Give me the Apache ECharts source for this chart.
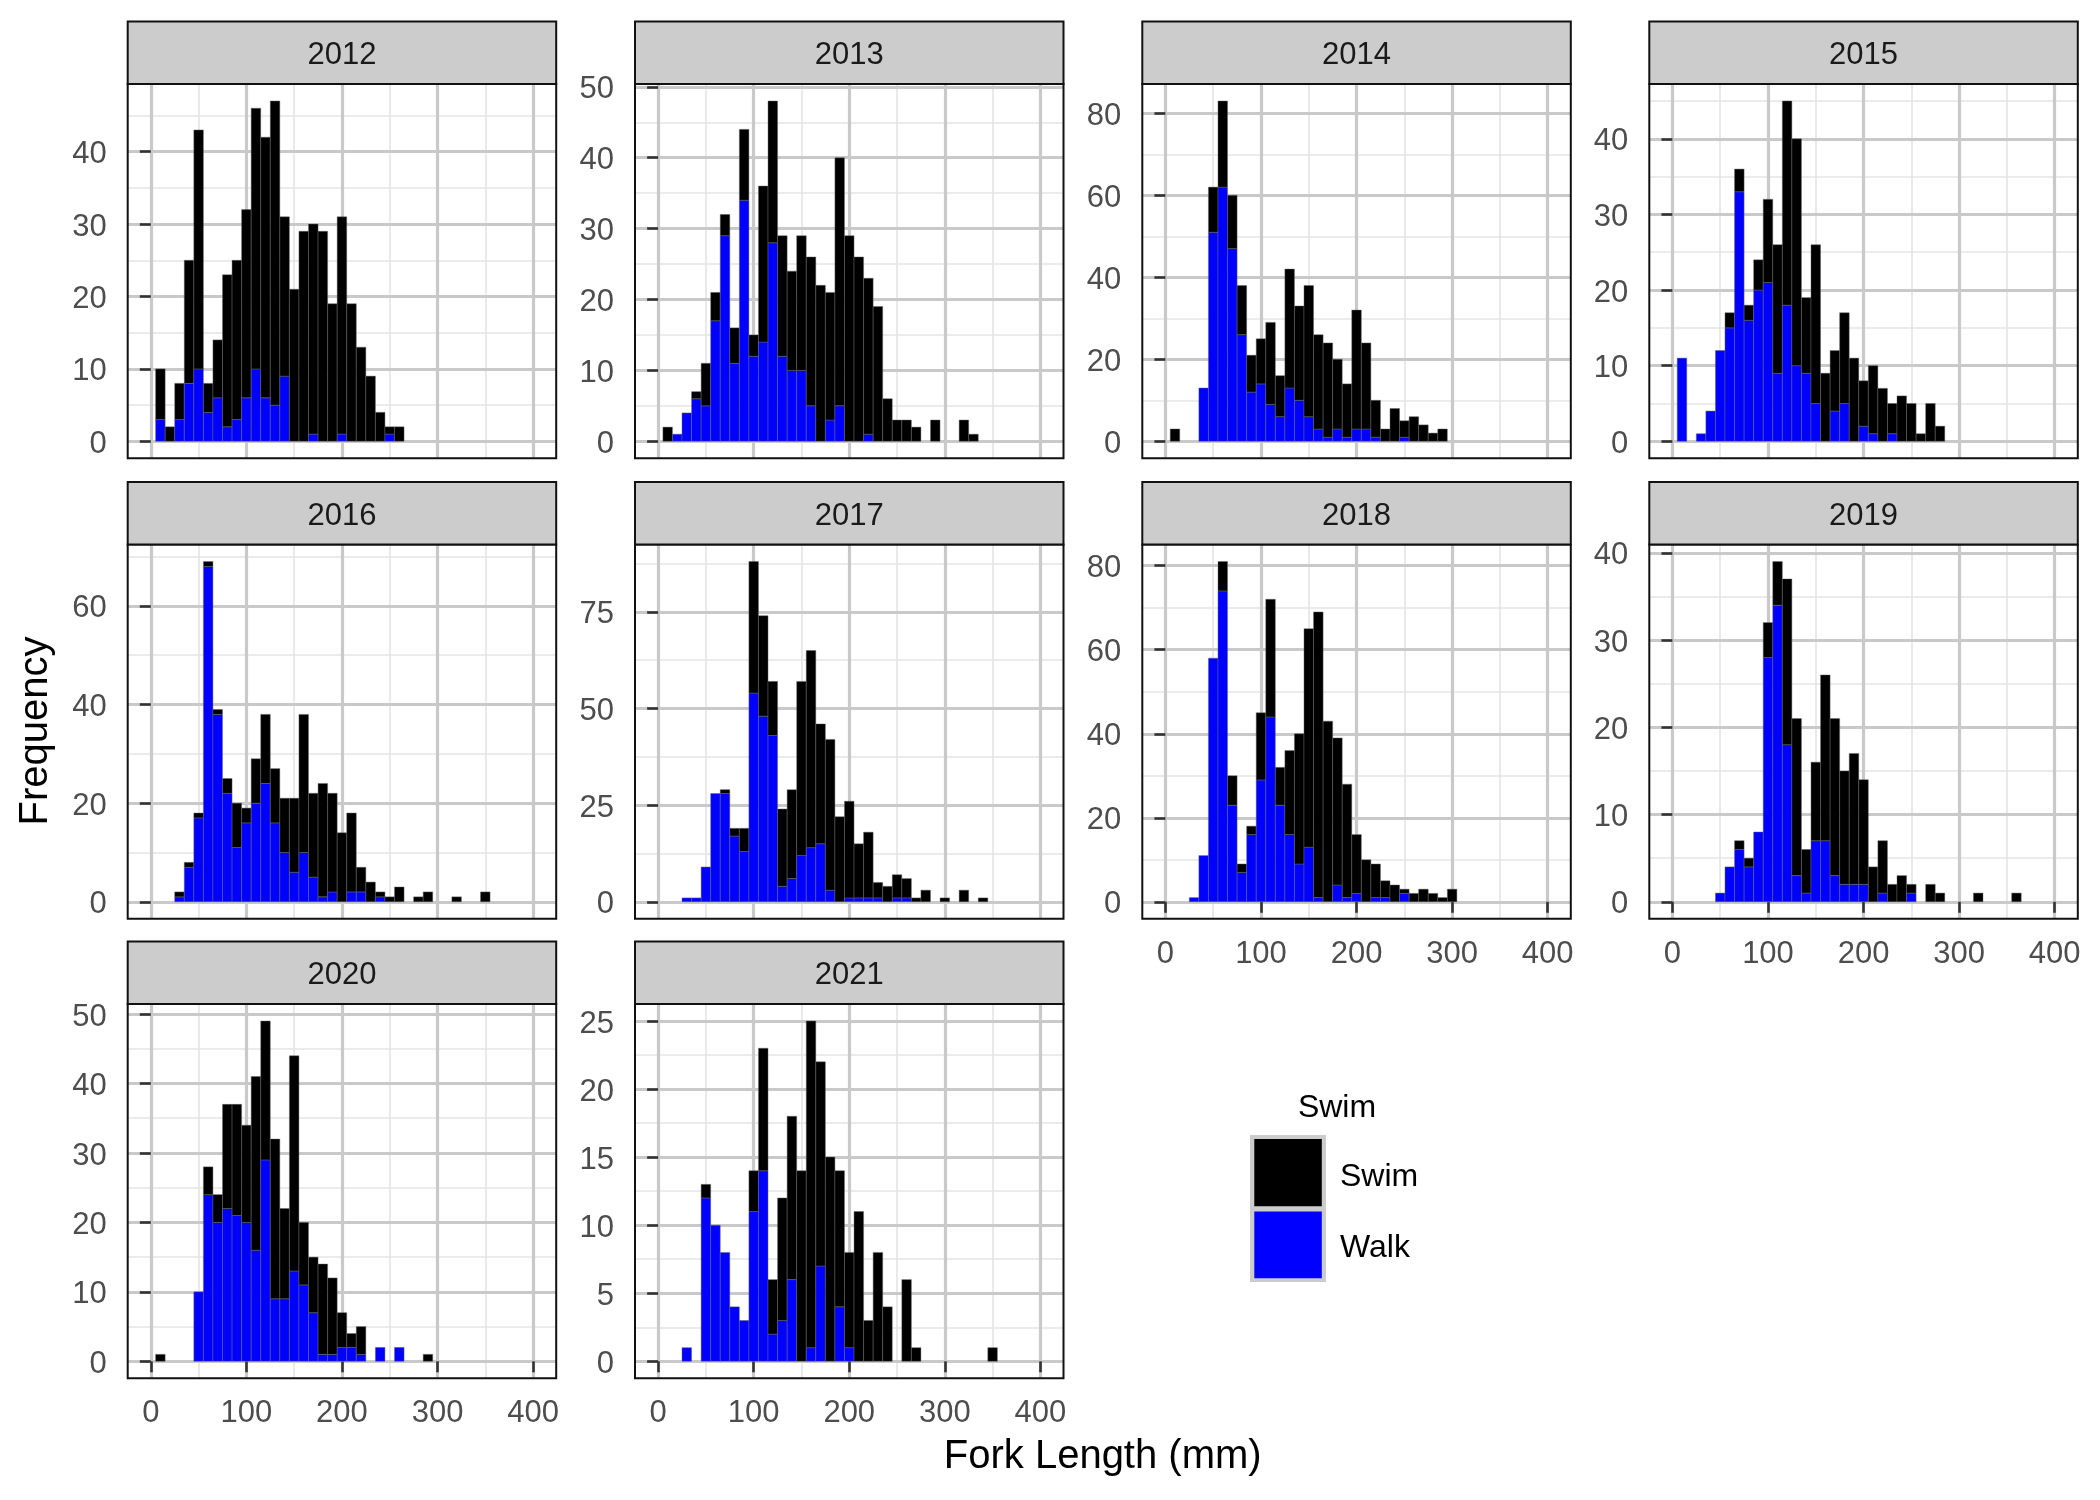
<!DOCTYPE html>
<html>
<head>
<meta charset="utf-8">
<script src="https://cdn.jsdelivr.net/npm/echarts@6/dist/echarts.min.js"></script>
<style>html,body{margin:0;padding:0;background:#fff}#c{width:2100px;height:1500px}</style>
</head>
<body>
<div id="c"></div>
<script>
// ---- data: bin centres (mm) and counts per year ----
const bins = [10,20,30,40,50,60,70,80,90,100,110,120,130,140,150,160,170,180,190,200,210,220,230,240,250,260,270,280,290,300,310,320,330,340,350,360];
const years = ['2012','2013','2014','2015','2016','2017','2018','2019','2020','2021'];

const walk2012 = [3,0,3,8,10,4,6,2,3,6,10,6,5,9,0,0,1,0,0,1,0,0,0,0,1,0,0,0,0,0,0,0,0,0,0,0];
const swim2012 = [7,2,5,17,33,4,8,21,22,26,36,36,42,22,21,29,29,29,19,30,19,13,9,4,1,2,0,0,0,0,0,0,0,0,0,0];
const walk2013 = [0,1,4,6,5,17,29,11,34,12,14,28,12,10,10,5,0,3,5,0,0,1,0,0,0,0,0,0,0,0,0,0,0,0,0,0];
const swim2013 = [2,0,0,1,6,4,3,5,10,3,22,20,17,14,19,21,22,18,35,29,26,22,19,6,3,3,2,0,3,0,0,3,1,0,0,0];
const walk2014 = [0,0,0,13,51,62,47,26,12,14,9,6,13,10,6,3,1,3,1,3,3,1,0,0,1,0,0,0,0,0,0,0,0,0,0,0];
const swim2014 = [3,0,0,0,11,21,13,12,9,11,20,10,29,23,32,23,23,17,13,29,21,9,3,8,4,6,4,2,3,0,0,0,0,0,0,0];
const walk2015 = [11,0,1,4,12,15,33,16,20,21,9,18,10,9,5,0,4,5,0,2,1,0,1,0,0,0,0,0,0,0,0,0,0,0,0,0];
const swim2015 = [0,0,0,0,0,2,3,2,4,11,17,27,30,10,21,9,8,12,11,6,9,7,4,6,5,1,5,2,0,0,0,0,0,0,0,0];
const walk2016 = [0,0,1,7,17,68,38,22,11,16,20,24,16,10,6,10,5,1,2,0,2,2,0,1,0,0,0,0,0,0,0,0,0,0,0,0];
const swim2016 = [0,0,1,1,1,1,1,3,9,3,9,14,11,11,15,28,17,23,20,14,16,5,4,1,1,3,0,1,2,0,0,1,0,0,2,0];
const walk2017 = [0,0,1,1,9,28,28,17,13,54,48,43,4,6,12,14,15,3,0,1,1,1,1,0,1,1,0,0,0,0,0,0,0,0,0,0];
const swim2017 = [0,0,0,0,0,0,1,2,6,34,26,14,20,23,45,51,31,39,22,25,14,17,4,4,6,5,1,3,0,1,0,3,0,1,0,0];
const walk2018 = [0,0,1,11,58,74,23,7,16,29,44,23,16,9,13,1,0,4,1,2,0,1,1,0,2,0,0,0,0,0,0,0,0,0,0,0];
const swim2018 = [0,0,0,0,0,7,7,2,2,16,28,9,20,31,52,68,43,35,27,14,10,8,4,4,1,2,3,2,1,3,0,0,0,0,0,0];
const walk2019 = [0,0,0,0,1,4,6,4,8,28,34,18,3,1,7,7,3,2,2,2,0,1,0,0,1,0,0,0,0,0,0,0,0,0,0,0];
const swim2019 = [0,0,0,0,0,0,1,1,0,4,5,19,18,5,9,19,18,13,15,12,4,6,2,3,1,0,2,1,0,0,0,1,0,0,0,1];
const walk2020 = [0,0,0,0,10,24,20,22,21,20,16,29,9,9,13,11,7,1,1,2,2,1,0,2,0,2,0,0,0,0,0,0,0,0,0,0];
const swim2020 = [1,0,0,0,0,4,4,15,16,14,25,20,23,13,31,9,8,13,11,5,2,4,0,0,0,0,0,0,1,0,0,0,0,0,0,0];
const walk2021 = [0,0,1,0,12,10,8,4,3,11,14,2,3,6,0,1,7,0,4,1,0,0,0,0,0,0,0,0,0,0,0,0,0,0,0,0];
const swim2021 = [0,0,0,0,1,0,0,0,0,3,9,4,9,12,14,24,15,15,10,7,11,3,8,4,0,6,1,0,0,0,0,0,0,0,1,0];

// tick labels
const xTicks = [0,100,200,300,400];
const xMinorTicks = [50,150,250,350];
const yTickStep = [10,10,20,10,20,25,20,10,10,5];

// ---- build chart ----
const walkData = [walk2012,walk2013,walk2014,walk2015,walk2016,walk2017,walk2018,walk2019,walk2020,walk2021];
const swimData = [swim2012,swim2013,swim2014,swim2015,swim2016,swim2017,swim2018,swim2019,swim2020,swim2021];

const FONT = '"Liberation Sans", Arial, Helvetica, sans-serif';
const colLeft = [127.7, 635, 1142.3, 1649.3];
const rowTop = [84, 544.5, 1004];
const PW = 428.5, PH = 374.3, SH = 62.5;
const XMIN = -24.2, XMAX = 424.2;
const showX = [false,false,false,false,false,false,true,true,true,true];
const BINW = 10;
const TY = 3; // small downward text offset

function renderBars(params, api) {
  const x = api.value(0), w = api.value(1), s = api.value(2);
  const a = api.coord([x - BINW/2, 0]);
  const b = api.coord([x + BINW/2, w]);
  const t = api.coord([x + BINW/2, w + s]);
  const width = b[0] - a[0];
  const children = [];
  const stroke = 'rgba(105,105,105,0.9)';
  if (w > 0) children.push({type:'rect', shape:{x:a[0], y:b[1], width:width, height:a[1]-b[1]},
    style:{fill:'#0000ff', stroke:stroke, lineWidth:0.5}});
  if (s > 0) children.push({type:'rect', shape:{x:a[0], y:t[1], width:width, height:b[1]-t[1]},
    style:{fill:'#000000', stroke:stroke, lineWidth:0.5}});
  return {type:'group', children:children};
}

const grids = [], xAxes = [], yAxes = [], series = [], graphics = [];
const tickLine = {color:'#333333', width:2.6};
const labelStyle = {color:'#4d4d4d', fontSize:31, fontFamily:FONT};
const MAJ = {color:'#c9c9c9', width:3.2};
const MIN = {color:'#e4e4e4', width:1.6};

years.forEach(function (yr, i) {
  const r = Math.floor(i / 4), c = i % 4;
  const left = colLeft[c], top = rowTop[r];
  grids.push({left:left, top:top, width:PW, height:PH, containLabel:false, outerBoundsMode:'none'});

  const tot = walkData[i].map(function (v, j) { return v + swimData[i][j]; });
  const M = Math.max.apply(null, tot);
  const ymin = -0.05 * M, ymax = 1.05 * M;
  const step = yTickStep[i];
  const yt = [], ym = [];
  for (let k = 0; k * step <= ymax; k++) yt.push(k * step);
  for (let k = 0; (k + 0.5) * step <= ymax; k++) ym.push((k + 0.5) * step);

  xAxes.push({type:'value', gridIndex:i, min:XMIN, max:XMAX, z:0, position:'top',
    axisLine:{show:false}, axisTick:{show:false, customValues:xMinorTicks},
    axisLabel:{show:false, customValues:xMinorTicks},
    splitLine:{show:true, lineStyle:MIN}});
  xAxes.push({type:'value', gridIndex:i, min:XMIN, max:XMAX, z:1, position:'bottom',
    axisLine:{show:false},
    axisTick:{show:showX[i], length:11, lineStyle:tickLine, customValues:xTicks},
    axisLabel:Object.assign({show:showX[i], margin:17 + TY, customValues:xTicks}, labelStyle),
    splitLine:{show:true, lineStyle:MAJ}});
  yAxes.push({type:'value', gridIndex:i, min:ymin, max:ymax, z:0, position:'right',
    axisLine:{show:false}, axisTick:{show:false, customValues:ym},
    axisLabel:{show:false, customValues:ym},
    splitLine:{show:true, lineStyle:MIN}});
  yAxes.push({type:'value', gridIndex:i, min:ymin, max:ymax, z:1, position:'left',
    axisLine:{show:false},
    axisTick:{show:true, length:11, lineStyle:tickLine, customValues:yt},
    axisLabel:Object.assign({show:true, margin:21, customValues:yt, verticalAlign:'top', lineHeight:2*TY}, labelStyle),
    splitLine:{show:true, lineStyle:MAJ}});

  const data = [];
  bins.forEach(function (b, j) {
    if (walkData[i][j] + swimData[i][j] > 0) data.push([b, walkData[i][j], swimData[i][j]]);
  });
  series.push({type:'custom', name:yr, xAxisIndex:2*i+1, yAxisIndex:2*i+1, z:2,
    silent:true, animation:false, renderItem:renderBars, data:data,
    encode:{x:0, y:[1,2]}});

  graphics.push({type:'rect', z:50, silent:true,
    shape:{x:left, y:top, width:PW, height:PH},
    style:{fill:'none', stroke:'#111111', lineWidth:2}});
  graphics.push({type:'rect', z:50, silent:true,
    shape:{x:left, y:top - SH, width:PW, height:SH},
    style:{fill:'#cccccc', stroke:'#111111', lineWidth:2}});
  graphics.push({type:'text', z:51, silent:true, x:left + PW/2, y:top - SH/2 + TY,
    style:{text:yr, fontSize:31, fontFamily:FONT, fill:'#1a1a1a', align:'center', verticalAlign:'middle'}});
});

graphics.push({type:'text', z:51, x:1102.7, y:1454 + TY,
  style:{text:'Fork Length (mm)', fontSize:40, fontFamily:FONT, fill:'#000', align:'center', verticalAlign:'middle'}});
graphics.push({type:'text', z:51, x:36, y:731, rotation:Math.PI/2,
  style:{text:'Frequency', fontSize:40, fontFamily:FONT, fill:'#000', align:'center', verticalAlign:'middle'}});

graphics.push({type:'text', z:51, x:1337, y:1106 + 2,
  style:{text:'Swim', fontSize:32, fontFamily:FONT, fill:'#000', align:'center', verticalAlign:'middle'}});
graphics.push({type:'rect', z:50, shape:{x:1250, y:1135, width:76, height:147}, style:{fill:'#cccccc'}});
graphics.push({type:'rect', z:51, shape:{x:1254.3, y:1139, width:67.5, height:67.3}, style:{fill:'#000000'}});
graphics.push({type:'rect', z:51, shape:{x:1254.3, y:1211.5, width:67.5, height:66.8}, style:{fill:'#0000ff'}});
graphics.push({type:'text', z:51, x:1340, y:1175 + 2,
  style:{text:'Swim', fontSize:32, fontFamily:FONT, fill:'#000', align:'left', verticalAlign:'middle'}});
graphics.push({type:'text', z:51, x:1340, y:1246 + 2,
  style:{text:'Walk', fontSize:32, fontFamily:FONT, fill:'#000', align:'left', verticalAlign:'middle'}});

const chart = echarts.init(document.getElementById('c'), null, {renderer:'canvas'});
chart.setOption({
  animation:false,
  backgroundColor:'#ffffff',
  grid:grids, xAxis:xAxes, yAxis:yAxes, series:series,
  graphic:{elements:graphics}
});
</script>
</body>
</html>
